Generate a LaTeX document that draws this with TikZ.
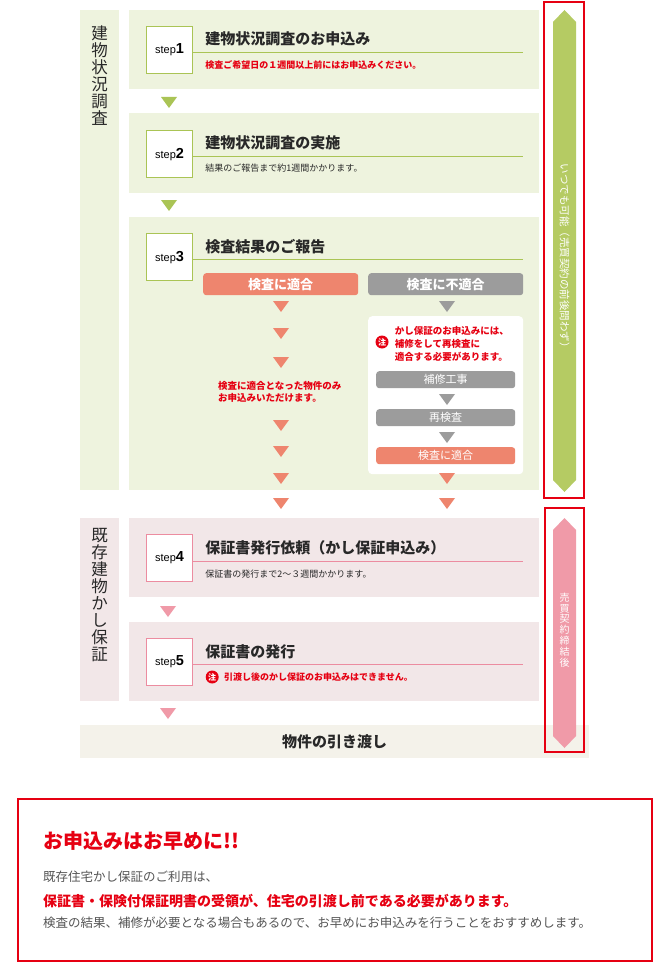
\documentclass[tikz,border=0pt]{standalone}
\usepackage{fontspec}
\setmainfont{Liberation Sans}
\newfontfamily\jp{Noto Sans CJK JP}
\usetikzlibrary{shapes.geometric, positioning, calc}
\definecolor{grnbg}{RGB}{238,243,222}
\definecolor{grnline}{RGB}{170,196,85}
\definecolor{grnbar}{RGB}{181,203,99}
\definecolor{pnkbg}{RGB}{242,231,232}
\definecolor{pnkline}{RGB}{236,140,160}
\definecolor{pnkbar}{RGB}{240,154,168}
\definecolor{salmon}{RGB}{238,133,110}
\definecolor{okgray}{RGB}{156,156,156}
\definecolor{alert}{RGB}{230,0,18}
\definecolor{beige}{RGB}{244,242,234}
\definecolor{txtdark}{RGB}{40,40,40}
\definecolor{txtgray}{RGB}{85,85,85}

\tikzset{
  panel/.style={anchor=north west, inner sep=0, minimum width=410, minimum height=#1},
  sidebox/.style={anchor=north west, inner sep=0, minimum width=39, minimum height=#1},
  sidetext/.style={anchor=north, align=center, inner sep=0, text=txtdark, font=\jp\fontsize{16.5}{17}\selectfont},
  steplabel/.style={fill=white, line width=1.2pt, minimum width=46, minimum height=47, anchor=north west, inner sep=0},
  steptitle/.style={anchor=west, inner sep=0, text=txtdark, font=\jp\bfseries\fontsize{15}{15}\selectfont},
  stepnote/.style={anchor=west, inner sep=0, font=\jp\fontsize{9}{9}\selectfont},
  rednote/.style={anchor=west, inner sep=0, text=alert, font=\jp\bfseries\fontsize{9}{9}\selectfont},
  tag/.style={anchor=north west, inner sep=0, rounded corners=3, text=white, minimum width=#1},
  chu/.style={circle, fill=alert, text=white, inner sep=0, minimum size=13, font=\jp\bfseries\fontsize{8}{8}\selectfont},
  downtri/.pic={\fill (-8,0) -- (8,0) -- (0,11) -- cycle;}
}
\newcommand{\stepno}[1]{\fontsize{11}{11}\selectfont step\fontsize{14.5}{14.5}\selectfont\textbf{#1}}

\begin{document}
\begin{tikzpicture}[x=1pt, y=-1pt]
  \useasboundingbox[fill=white] (0,0) rectangle (666,971);

  % Building survey section
  \node[sidebox=480, fill=grnbg] (side1) at (80,10) {};
  \node[sidetext] (side1txt) at ($(side1.north)+(0,16)$) {建\\物\\状\\況\\調\\査};

  % Step 1
  \node[panel=79, fill=grnbg] (st1) at (129,10) {};
  \node[steplabel, draw=grnline] (lab1) at ($(st1.north west)+(17,16)$) {\stepno{1}};
  \node[steptitle] (tit1) at ($(lab1.north east)+(12,13)$) {建物状況調査のお申込み};
  \draw[grnline, line width=1pt] ($(lab1.north east)+(0,27)$) -- ($(st1.north east)+(-16,43)$);
  \node[rednote] (sub1) at ($(lab1.north east)+(12,39)$) {検査ご希望日の１週間以上前にはお申込みください。};
  \pic[grnline] at (169,97) {downtri};

  % Step 2
  \node[panel=80, fill=grnbg] (st2) at (129,113) {};
  \node[steplabel, draw=grnline] (lab2) at ($(st2.north west)+(17,17)$) {\stepno{2}};
  \node[steptitle] (tit2) at ($(lab2.north east)+(12,13)$) {建物状況調査の実施};
  \draw[grnline, line width=1pt] ($(lab2.north east)+(0,26)$) -- ($(st2.north east)+(-16,43)$);
  \node[stepnote, text=txtdark] (sub2) at ($(lab2.north east)+(12,38)$) {結果のご報告まで約1週間かかります。};
  \pic[grnline] at (169,200) {downtri};

  % Step 3
  \node[panel=273, fill=grnbg] (st3) at (129,217) {};
  \node[steplabel, draw=grnline] (lab3) at ($(st3.north west)+(17,16)$) {\stepno{3}};
  \node[steptitle] (tit3) at ($(lab3.north east)+(12,14)$) {検査結果のご報告};
  \draw[grnline, line width=1pt] ($(lab3.north east)+(0,26)$) -- ($(st3.north east)+(-16,42)$);

  % pass / fail
  \node[tag=155, minimum height=22, fill=salmon, font=\jp\bfseries\fontsize{13}{13}\selectfont] (pass) at (203,273) {検査に適合};
  \node[tag=155, minimum height=22, fill=okgray, font=\jp\bfseries\fontsize{13}{13}\selectfont] (fail) at (368,273) {検査に不適合};
  \foreach \ty in {301,328,357,420,446,473,498}
    \pic[salmon] at (281,\ty) {downtri};
  \node[anchor=west, align=left, inner sep=0, text=alert, font=\jp\bfseries\fontsize{9.5}{12.5}\selectfont] (passnote) at (218,392) {検査に適合となった物件のみ\\お申込みいただけます。};

  \pic[okgray] at (447,301) {downtri};
  \node[anchor=north west, inner sep=0, fill=white, rounded corners=4, minimum width=155, minimum height=158] (repair) at (368,316) {};
  \node[chu] (chu1) at (382,342) {注};
  \node[anchor=west, align=left, inner sep=0, text=alert, font=\jp\bfseries\fontsize{9.5}{13}\selectfont] (failnote) at ($(chu1.east)+(6,2)$) {かし保証のお申込みには、\\補修をして再検査に\\適合する必要があります。};
  \node[tag=139, minimum height=17, fill=okgray, font=\jp\fontsize{11}{11}\selectfont] (fix) at (376,371) {補修工事};
  \pic[okgray] at (447,394) {downtri};
  \node[tag=139, minimum height=17, fill=okgray, font=\jp\fontsize{11}{11}\selectfont] (recheck) at (376,409) {再検査};
  \pic[okgray] at (447,432) {downtri};
  \node[tag=139, minimum height=17, fill=salmon, font=\jp\fontsize{11}{11}\selectfont] (pass2) at (376,447) {検査に適合};
  \pic[salmon] at (447,473) {downtri};
  \pic[salmon] at (447,498) {downtri};

  % Warranty section
  \node[sidebox=183, fill=pnkbg] (side2) at (80,518) {};
  \node[sidetext] (side2txt) at ($(side2.north)+(0,10)$) {既\\存\\建\\物\\か\\し\\保\\証};

  % Step 4
  \node[panel=79, fill=pnkbg] (st4) at (129,518) {};
  \node[steplabel, draw=pnkline] (lab4) at ($(st4.north west)+(17,16)$) {\stepno{4}};
  \node[steptitle] (tit4) at ($(lab4.north east)+(12,14)$) {保証書発行依頼（かし保証申込み）};
  \draw[pnkline, line width=1pt] ($(lab4.north east)+(0,27)$) -- ($(st4.north east)+(-16,43)$);
  \node[stepnote, text=txtdark] (sub4) at ($(lab4.north east)+(12,40)$) {保証書の発行まで2～３週間かかります。};
  \pic[pnkbar] at (168,606) {downtri};

  % Step 5
  \node[panel=79, fill=pnkbg] (st5) at (129,622) {};
  \node[steplabel, draw=pnkline] (lab5) at ($(st5.north west)+(17,16)$) {\stepno{5}};
  \node[steptitle] (tit5) at ($(lab5.north east)+(12,14)$) {保証書の発行};
  \draw[pnkline, line width=1pt] ($(lab5.north east)+(0,26)$) -- ($(st5.north east)+(-16,42)$);
  \node[chu] (chu2) at ($(lab5.north east)+(19,39)$) {注};
  \node[rednote] (sub5) at ($(chu2.east)+(5,0)$) {引渡し後のかし保証のお申込みはできません。};
  \pic[pnkbar] at (168,708) {downtri};

  % Handover
  \node[anchor=north west, inner sep=0, fill=beige, minimum width=509, minimum height=33, text=txtdark, font=\jp\bfseries\fontsize{15}{15}\selectfont] (handover) at (80,725) {物件の引き渡し};

  % Timing bars
  \fill[grnbar] (553,22) -- (564.5,10) -- (576,22) -- (576,480) -- (564.5,492) -- (553,480) -- cycle;
  \node[rotate=-90, inner sep=0, text=white, font=\jp\fontsize{10.5}{10.5}\selectfont] (bar1txt) at (564.5,258) {いつでも可能（売買契約の前後問わず）};
  \draw[alert, line width=2pt] (544,2) rectangle (584,498);
  \fill[pnkbar] (553,530) -- (564.5,518) -- (576,530) -- (576,736) -- (564.5,748) -- (553,736) -- cycle;
  \node[align=center, inner sep=0, text=white, font=\jp\fontsize{10}{10.8}\selectfont] (bar2txt) at (564.5,630) {売\\買\\契\\約\\締\\結\\後};
  \draw[alert, line width=2pt] (545,508) rectangle (584,752);

  % Notice box
  \node[draw=alert, line width=1.5pt, anchor=north west, inner sep=0, minimum width=634, minimum height=162] (notice) at (17,798) {};
  \node[anchor=west, inner sep=0, text=alert, font=\jp\bfseries\fontsize{20}{20}\selectfont] (noticetit) at ($(notice.north west)+(26,43)$) {お申込みはお早めに!!};
  \node[anchor=west, inner sep=0, text=txtgray, font=\jp\fontsize{12.5}{12.5}\selectfont] (line1) at ($(notice.north west)+(26,79)$) {既存住宅かし保証のご利用は、};
  \node[anchor=west, inner sep=0, text=alert, font=\jp\bfseries\fontsize{14}{14}\selectfont] (line2) at ($(notice.north west)+(26,103)$) {保証書・保険付保証明書の受領が、住宅の引渡し前である必要があります。};
  \node[anchor=west, inner sep=0, text=txtgray, font=\jp\fontsize{12.5}{12.5}\selectfont] (line3) at ($(notice.north west)+(26,125)$) {検査の結果、補修が必要となる場合もあるので、お早めにお申込みを行うことをおすすめします。};
\end{tikzpicture}
\end{document}
